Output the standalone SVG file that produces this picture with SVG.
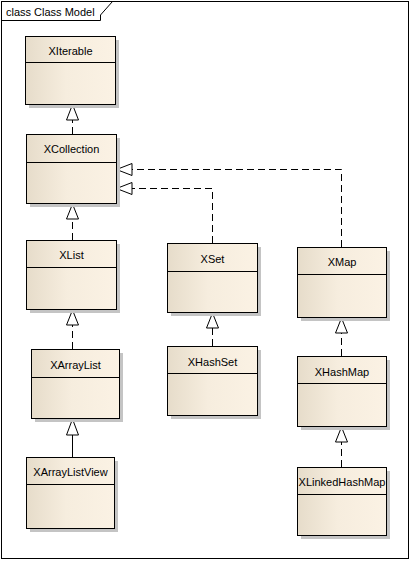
<svg xmlns="http://www.w3.org/2000/svg" width="411" height="561" viewBox="0 0 411 561">
<defs>
<linearGradient id="fillg" x1="0" y1="0" x2="1" y2="0">
<stop offset="0" stop-color="#E6DCCA"/>
<stop offset="0.45" stop-color="#F6EDDE"/>
<stop offset="1" stop-color="#FBF2E4"/>
</linearGradient>
<style>
.sh{fill:#C4C4C4;}
.box{fill:url(#fillg);stroke:#000;stroke-width:1;}
.div{stroke:#000;stroke-width:1;}
.lbl{font-family:"Liberation Sans",Arial,sans-serif;font-size:11px;fill:#000;text-anchor:middle;}
.dash{fill:none;stroke:#000;stroke-width:1;stroke-dasharray:7,4;}
.solid{fill:none;stroke:#000;stroke-width:1;}
.tri{fill:#FFFFFF;stroke:#000;stroke-width:1;}
</style>
</defs>
<rect width="411" height="561" fill="#FFFFFF"/>
<g id="frame">
<rect x="1.5" y="1.5" width="407" height="557" fill="none" stroke="#000"/>
<path d="M1.5,20.5 H100.5 V15 L112.5,1.5" fill="none" stroke="#000"/>
<text x="6" y="16" font-family="Liberation Sans,Arial,sans-serif" font-size="11" fill="#000">class Class Model</text>
</g>
<g id="connectors">
<path class="dash" d="M72.5,134 V120"/>
<path class="tri" d="M72.5,104.5 L66.5,120 H78.5 Z"/>
<path class="dash" d="M72.5,240 V219"/>
<path class="tri" d="M72.5,204 L66.5,219 H78.5 Z"/>
<path class="dash" d="M212.5,243 V188.5 H132"/>
<path class="tri" d="M116.5,188.5 L132,182.5 V194.5 Z"/>
<path class="dash" d="M341.5,247 V169.5 H132"/>
<path class="tri" d="M116.5,169.5 L132,163.5 V175.5 Z"/>
<path class="dash" d="M72.5,349 V325"/>
<path class="tri" d="M72.5,310 L66.5,325 H78.5 Z"/>
<path class="solid" d="M72.5,457 V435"/>
<path class="tri" d="M72.5,419 L66.5,435 H78.5 Z"/>
<path class="dash" d="M212.5,346 V328"/>
<path class="tri" d="M212.5,313 L206.5,328 H218.5 Z"/>
<path class="dash" d="M341.5,356 V333"/>
<path class="tri" d="M341.5,318 L335.5,333 H347.5 Z"/>
<path class="dash" d="M341.5,467 V442"/>
<path class="tri" d="M341.5,427 L335.5,442 H347.5 Z"/>
</g>
<g id="XIterable">
<rect class="sh" x="29" y="40" width="90" height="68"/>
<rect class="box" x="25.5" y="36.5" width="90" height="68"/>
<line class="div" x1="25.5" y1="62.5" x2="115.5" y2="62.5"/>
<text class="lbl" x="70.5" y="55">XIterable</text>
</g>
<g id="XCollection">
<rect class="sh" x="30" y="138" width="90" height="69"/>
<rect class="box" x="26.5" y="134.5" width="90" height="69"/>
<line class="div" x1="26.5" y1="162.5" x2="116.5" y2="162.5"/>
<text class="lbl" x="71.5" y="153">XCollection</text>
</g>
<g id="XList">
<rect class="sh" x="30" y="244" width="90" height="69"/>
<rect class="box" x="26.5" y="240.5" width="90" height="69"/>
<line class="div" x1="26.5" y1="267.5" x2="116.5" y2="267.5"/>
<text class="lbl" x="71.5" y="259">XList</text>
</g>
<g id="XSet">
<rect class="sh" x="171" y="247" width="90" height="69"/>
<rect class="box" x="167.5" y="243.5" width="90" height="69"/>
<line class="div" x1="167.5" y1="271.5" x2="257.5" y2="271.5"/>
<text class="lbl" x="212.5" y="263">XSet</text>
</g>
<g id="XMap">
<rect class="sh" x="301" y="251" width="89" height="70"/>
<rect class="box" x="297.5" y="247.5" width="89" height="70"/>
<line class="div" x1="297.5" y1="274.5" x2="386.5" y2="274.5"/>
<text class="lbl" x="342" y="266">XMap</text>
</g>
<g id="XArrayList">
<rect class="sh" x="35" y="353" width="88" height="69"/>
<rect class="box" x="31.5" y="349.5" width="88" height="69"/>
<line class="div" x1="31.5" y1="377.5" x2="119.5" y2="377.5"/>
<text class="lbl" x="75.5" y="369">XArrayList</text>
</g>
<g id="XArrayListView">
<rect class="sh" x="30" y="461" width="88" height="71"/>
<rect class="box" x="26.5" y="457.5" width="88" height="71"/>
<line class="div" x1="26.5" y1="484.5" x2="114.5" y2="484.5"/>
<text class="lbl" x="70.5" y="476">XArrayListView</text>
</g>
<g id="XHashSet">
<rect class="sh" x="171" y="350" width="90" height="69"/>
<rect class="box" x="167.5" y="346.5" width="90" height="69"/>
<line class="div" x1="167.5" y1="373.5" x2="257.5" y2="373.5"/>
<text class="lbl" x="212.5" y="366">XHashSet</text>
</g>
<g id="XHashMap">
<rect class="sh" x="301" y="360" width="89" height="70"/>
<rect class="box" x="297.5" y="356.5" width="89" height="70"/>
<line class="div" x1="297.5" y1="383.5" x2="386.5" y2="383.5"/>
<text class="lbl" x="342" y="376">XHashMap</text>
</g>
<g id="XLinkedHashMap">
<rect class="sh" x="301" y="471" width="89" height="68"/>
<rect class="box" x="297.5" y="467.5" width="89" height="68"/>
<line class="div" x1="297.5" y1="494.5" x2="386.5" y2="494.5"/>
<text class="lbl" x="342" y="486">XLinkedHashMap</text>
</g>
</svg>
